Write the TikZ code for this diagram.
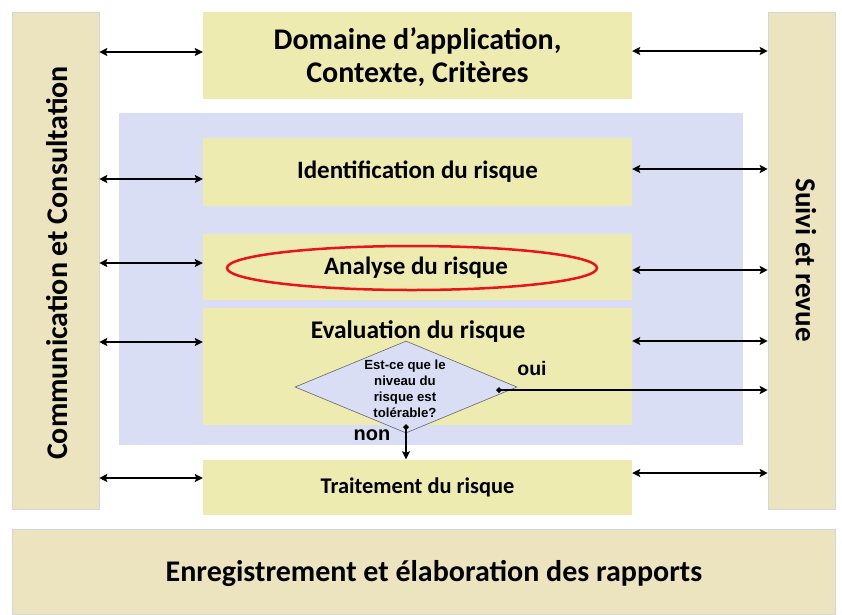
\documentclass[tikz,border=0pt]{standalone}
\usepackage{fontspec}
\setmainfont{Carlito}
\newfontfamily\arialf{Liberation Sans}
\usetikzlibrary{arrows.meta,shapes.geometric}
\definecolor{beigec}{HTML}{EBE4BF}
\definecolor{yellowc}{HTML}{EDEBB0}
\definecolor{bluec}{HTML}{D9DEF5}
\definecolor{redc}{HTML}{E8131B}
\definecolor{edgec}{HTML}{D6D6D6}
\begin{document}
\begin{tikzpicture}[x=1pt,y=-1pt,
  bar/.style={draw=edgec,line width=0.6pt,fill=beigec,inner sep=0pt},
  ybox/.style={fill=yellowc,inner sep=0pt,minimum width=429pt,font=\bfseries},
  dbl/.style={line width=2pt,{Stealth[length=8pt,width=8pt,inset=1.5pt]}-{Stealth[length=8pt,width=8pt,inset=1.5pt]}},
  one/.style={line width=2pt,{Diamond[length=6pt,width=6pt]}-{Stealth[length=8pt,width=8pt,inset=1.5pt]}},
  txt/.style={inner sep=0pt,font=\bfseries}]
\useasboundingbox (0,0) rectangle (842,614);
% side bars
\node[bar,minimum width=87pt,minimum height=497pt] (lb) at (55.5,260.5) {};
\node[bar,minimum width=67pt,minimum height=497pt] (rb) at (801.5,260.5) {};
\node[bar,minimum width=823pt,minimum height=85pt] (bot) at (423.5,571.5) {};
\node[txt,font=\bfseries\fontsize{30}{34}\selectfont] (bott) at (434,573) {Enregistrement et élaboration des rapports};
\node[txt,rotate=90,font=\bfseries\fontsize{30}{34}\selectfont] (lbt) at (57,263) {Communication et Consultation};
\node[txt,rotate=-90,font=\bfseries\fontsize{29}{34}\selectfont] (rbt) at (806,260) {Suivi et revue};
% blue zone
\node[fill=bluec,inner sep=0pt,minimum width=624pt,minimum height=332pt] (blue) at (431,279) {};
% yellow boxes
\node[ybox,minimum height=87pt] (dom) at (417.5,55.5) {};
\node[txt,align=center,font=\bfseries\fontsize{30}{33}\selectfont] (domt) at (417.5,57) {Domaine d’application,\\Contexte, Critères};
\node[ybox,minimum height=68pt,font=\bfseries\fontsize{25}{28}\selectfont] (ident) at (417.5,172) {Identification du risque};
\node[ybox,minimum height=66pt] (ana) at (417.5,267) {};
\node[ybox,minimum height=117pt] (eval) at (417.5,366.5) {};
\node[ybox,minimum height=55pt,font=\bfseries\fontsize{22.4}{26}\selectfont] (trait) at (417.5,487) {Traitement du risque};
% analyse
\node[draw=redc,line width=2.5pt,ellipse,minimum width=370pt,minimum height=44pt,inner sep=0pt] (ell) at (412,268) {};
\node[txt,font=\bfseries\fontsize{25}{28}\selectfont] (anat) at (416,268) {Analyse du risque};
% evaluation
\node[txt,font=\bfseries\fontsize{25.4}{28}\selectfont] (evt) at (418,332) {Evaluation du risque};
\node[diamond,draw=gray!80!black,line width=0.6pt,fill=bluec,minimum width=222pt,minimum height=92pt,inner sep=0pt,aspect=2.4] (dia) at (406,387) {};
\node[txt,align=center,font=\arialf\bfseries\fontsize{13.2}{16}\selectfont] (diat) at (405,389) {Est-ce que le\\niveau du\\risque est\\tolérable?};
\node[txt,font=\arialf\bfseries\fontsize{19.5}{22}\selectfont] (oui) at (532,369) {oui};
\node[txt,font=\arialf\bfseries\fontsize{20}{22}\selectfont] (non) at (372,435) {non};
% left arrows
\draw[dbl] (lb.east |- 0,52) -- (dom.west |- 0,52);
\draw[dbl] (lb.east |- 0,179) -- (ident.west |- 0,179);
\draw[dbl] (lb.east |- 0,263) -- (ana.west |- 0,263);
\draw[dbl] (lb.east |- 0,342) -- (eval.west |- 0,342);
\draw[dbl] (lb.east |- 0,478) -- (trait.west |- 0,478);
% right arrows
\draw[dbl] (dom.east |- 0,51) -- (rb.west |- 0,51);
\draw[dbl] (ident.east |- 0,169) -- (rb.west |- 0,169);
\draw[dbl] (ana.east |- 0,270) -- (rb.west |- 0,270);
\draw[dbl] (eval.east |- 0,341) -- (rb.west |- 0,341);
\draw[dbl] (trait.east |- 0,473) -- (rb.west |- 0,473);
% decision arrows
\coordinate (ouis) at (496,390);
\coordinate (nons) at (406,424);
\draw[one] (ouis) -- (rb.west |- ouis);
\draw[one] (nons) -- (trait.north -| nons);
\end{tikzpicture}
\end{document}
